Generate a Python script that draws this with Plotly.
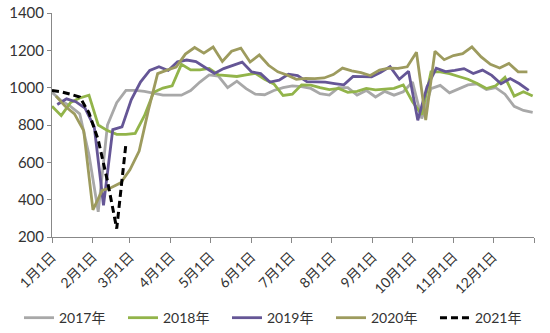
import pandas as pd
import plotly.graph_objects as go

# Weekly readings, one list per year (plotted against a common calendar year)
v2017 = [975, 930, 900, 860, 640, 335, 800, 920, 985, 985, 980, 970, 960, 960, 960, 985,
         1030, 1068, 1062, 1000, 1035, 995, 965, 962, 985, 1000, 1010, 1005, 996, 968, 960,
         1000, 1000, 960, 985, 950, 980, 960, 978, 1030, 835, 995, 1012, 972, 995, 1015,
         1020, 990, 1000, 965, 900, 878, 868]
v2018 = [900, 850, 920, 945, 960, 800, 770, 750, 750, 755, 850, 975, 998, 1010, 1125, 1095,
         1095, 1103, 1068, 1062, 1060, 1068, 1077, 1045, 1020, 958, 965, 1015, 1014, 1000,
         990, 996, 975, 980, 996, 988, 990, 996, 1015, 925, 855, 1085, 1085, 1075, 1060, 1045,
         1022, 995, 1010, 1055, 955, 978, 955]
v2019 = [910, 940, 925, 890, 790, 370, 775, 790, 935, 1030, 1092, 1112, 1092, 1138, 1148,
         1140, 1108, 1076, 1102, 1120, 1137, 1085, 1075, 1030, 1040, 1072, 1065, 1032, 1032,
         1030, 1022, 1015, 1060, 1058, 1058, 1082, 1113, 1045, 1088, 825, 1005, 1104, 1086,
         1092, 1102, 1076, 1094, 1066, 1021, 1049, 1021, 985]
v2020 = [955, 900, 860, 770, 345, 450, 465, 490, 560, 660, 880, 1075, 1094, 1110, 1180, 1215,
         1185, 1218, 1140, 1195, 1212, 1137, 1175, 1120, 1085, 1068, 1045, 1050, 1048, 1052,
         1070, 1105, 1090, 1080, 1065, 1094, 1104, 1103, 1112, 1190, 827, 1195, 1150, 1172,
         1182, 1218, 1165, 1125, 1105, 1130, 1085, 1085]
v2021 = [985, 978, 965, 950, 865, 720, 500, 245, 700]

# First reading of each year, as day offset from 1 Jan
start_offset = {"2017年": 0, "2018年": 0, "2019年": 4, "2020年": 3, "2021年": 0}

month_ticks = [f"{m}月1日" for m in range(1, 13)]
y_ticks = [200, 400, 600, 800, 1000, 1200, 1400]

series = [
    ("2017年", v2017, "#A8A8A8", "solid"),
    ("2018年", v2018, "#92B44A", "solid"),
    ("2019年", v2019, "#655696", "solid"),
    ("2020年", v2020, "#9D9B5E", "solid"),
    ("2021年", v2021, "#000000", "7px,4px"),
]

base = pd.Timestamp("2021-01-01")
fig = go.Figure()
for name, vals, color, dash in series:
    dates = pd.date_range(base + pd.Timedelta(days=start_offset[name]),
                          periods=len(vals), freq="7D")
    fig.add_trace(go.Scatter(
        x=dates, y=vals, name=name, mode="lines",
        line=dict(color=color, width=3 if name == "2021年" else 2.8, dash=dash),
    ))

tickvals = list(pd.date_range("2021-01-01", periods=13, freq="MS"))
ticktext = month_ticks + [""]

font_family = "Lato, 'Noto Sans CJK SC', sans-serif"
fig.update_layout(
    width=550, height=333,
    margin=dict(l=52, r=16, t=13, b=96, autoexpand=False),
    paper_bgcolor="white", plot_bgcolor="white",
    font=dict(family=font_family, size=14, color="#333333"),
    showlegend=True,
    legend=dict(
        orientation="h", xref="paper", yref="paper",
        x=-0.0685, y=-0.362, xanchor="left", yanchor="middle",
        font=dict(size=14, color="#333333"),
        entrywidth=59, entrywidthmode="pixels",
        itemwidth=30, tracegroupgap=0,
    ),
    xaxis=dict(
        type="date", range=["2021-01-01", "2022-01-01"],
        tickmode="array", tickvals=tickvals, ticktext=ticktext,
        tickangle=-45, ticks="outside", ticklen=5, tickcolor="#888888",
        showline=True, linecolor="#888888", linewidth=1,
        showgrid=False, zeroline=False, automargin=False,
        tickfont=dict(size=14),
    ),
    yaxis=dict(
        range=[200, 1400], tickmode="array", tickvals=y_ticks,
        ticks="outside", ticklen=4, tickcolor="#888888",
        showline=True, linecolor="#888888", linewidth=1,
        showgrid=False, zeroline=False, automargin=False,
        tickfont=dict(size=15),
    ),
)

fig.write_html("out.html")
